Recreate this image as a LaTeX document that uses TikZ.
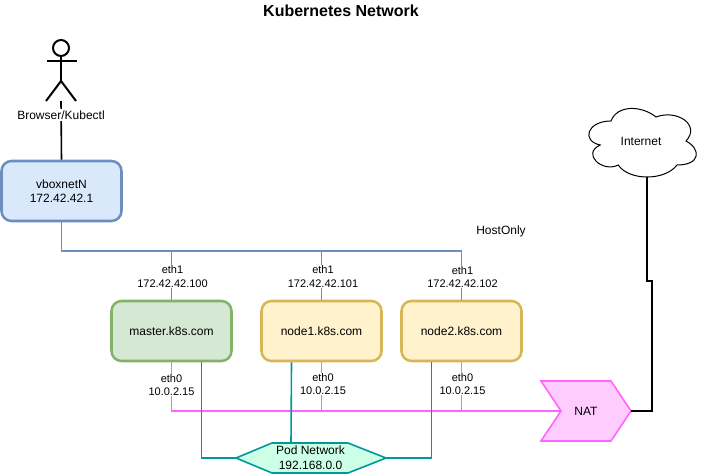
\documentclass[tikz,border=0pt]{standalone}
\usepackage{fontspec}
\setmainfont{Liberation Sans}
\usetikzlibrary{calc}
\definecolor{bluel}{HTML}{6C8EBF}\definecolor{bluef}{HTML}{DAE8FC}
\definecolor{greenl}{HTML}{82B366}\definecolor{greenf}{HTML}{D5E8D4}
\definecolor{yell}{HTML}{D6B656}\definecolor{yelf}{HTML}{FFF2CC}
\definecolor{pinkl}{HTML}{FF66FF}\definecolor{pinkf}{HTML}{FFCCFF}
\definecolor{teall}{HTML}{009999}\definecolor{tealf}{HTML}{CCFFE6}
\tikzset{
  x=0.75pt,y=-0.75pt,
  hostbox/.style={draw,rounded corners=7.5pt*0.75/0.75,line width=1.9pt,minimum width=90pt,minimum height=45pt,inner sep=0pt,align=center,font=\fontsize{9}{11}\selectfont},
  iflabel/.style={fill=white,inner sep=0.6pt,align=center,font=\fontsize{8.25}{9.9}\selectfont},
  plainlabel/.style={inner sep=0pt,align=center,font=\fontsize{9}{11}\selectfont},
  bluewire/.style={draw=bluel,line width=1.2pt},
  pinkwire/.style={draw=pinkl,line width=1.2pt},
  tealwire/.style={draw=teall,line width=1.2pt},
  blackwire/.style={draw=black,line width=1.2pt},
  actorline/.style={draw=black,line width=1.5pt},
}
\begin{document}
\begin{tikzpicture}
\useasboundingbox (0,0) rectangle (702,474);
% title
\node[inner sep=0pt,font=\fontsize{12}{14}\selectfont\bfseries] (title) at (341,11) {Kubernetes Network};
% named points
\coordinate (busL) at (61.5,251);
\coordinate (pinkY) at (171.5,411);
% wires first (under labels and boxes)
\node[hostbox,draw=bluel,fill=bluef] (vbox) at (61.5,191) {vboxnetN\\172.42.42.1};
\node[hostbox,draw=greenl,fill=greenf] (master) at (171.5,331) {master.k8s.com};
\node[hostbox,draw=yell,fill=yelf] (node1) at (321.5,331) {node1.k8s.com};
\node[hostbox,draw=yell,fill=yelf] (node2) at (461.5,331) {node2.k8s.com};
% pod network shape
\coordinate (podL) at (236,458);
\coordinate (podR) at (386,458);
\coordinate (podT) at (291,443);
\draw[draw=teall,fill=tealf,line width=1.2pt] (podL) -- (272,443) -- (348,443) -- (podR) -- (348,473) -- (272,473) -- cycle;
\node[plainlabel] (pod) at (310.5,458) {Pod Network\\192.168.0.0};
% NAT shape
\coordinate (natIn) at (561,411);
\coordinate (natOut) at (631,411);
\draw[draw=pinkl,fill=pinkf,line width=1.2pt] (541,381) -- (611,381) -- (natOut) -- (611,441) -- (541,441) -- (natIn) -- cycle;
\node[plainlabel] (nat) at (586,411) {NAT};
% cloud
\draw[draw=black,fill=white,line width=0.75pt]
  (611,121) .. controls (587,121) and (581,141) .. (600.2,145)
  .. controls (581,153.8) and (602.6,173) .. (618.2,165)
  .. controls (629,181) and (665,181) .. (677,165)
  .. controls (701,165) and (701,149) .. (686,141)
  .. controls (701,125) and (677,109) .. (656,117)
  .. controls (641,105) and (617,105) .. (611,121) -- cycle;
\node[plainlabel] (inet) at (641,141.5) {Internet};
\coordinate (cloudB) at (647,177);
\coordinate (natUp) at (652,281);
% actor
\draw[actorline] (61,48) circle (8);
\draw[actorline] (61,56) -- (61,81);
\draw[actorline] (46.5,61) -- (76.5,61);
\draw[actorline] (46,101) -- (61,81) -- (76,101);
\coordinate (actorB) at (61,101);
% connectors
\draw[blackwire] (actorB) -- (vbox.north);
\draw[bluewire] (vbox.south) -- (busL) -| (node2.north);
\draw[bluewire] (master.north) -- (master.north |- busL);
\draw[bluewire] (node1.north) -- (node1.north |- busL);
\draw[pinkwire] (master.south) |- (natIn);
\draw[pinkwire] (node1.south) -- (node1.south |- pinkY);
\draw[pinkwire] (node2.south) -- (node2.south |- pinkY);
\draw[tealwire] ($(master.south)+(30,0)$) |- (podL);
\draw[tealwire] ($(node1.south)+(-30,0)$) -- (podT);
\draw[tealwire] ($(node2.south)+(-30,0)$) |- (podR);
\draw[blackwire] (natOut) -| (natUp) -| (cloudB);
% labels
\node[plainlabel,fill=white,inner ysep=1pt] (browser) at (61,115) {Browser/Kubectl};
\node[plainlabel] (host) at (501,231) {HostOnly};
\node[iflabel] (e1a) at (172.5,276.5) {eth1\\172.42.42.100};
\node[iflabel] (e1b) at (323,276.5) {eth1\\172.42.42.101};
\node[iflabel] (e1c) at (462.5,277) {eth1\\172.42.42.102};
\node[iflabel] (e0a) at (171.5,385) {eth0\\10.0.2.15};
\node[iflabel] (e0b) at (323,384) {eth0\\10.0.2.15};
\node[iflabel] (e0c) at (462.5,384) {eth0\\10.0.2.15};
\end{tikzpicture}
\end{document}
